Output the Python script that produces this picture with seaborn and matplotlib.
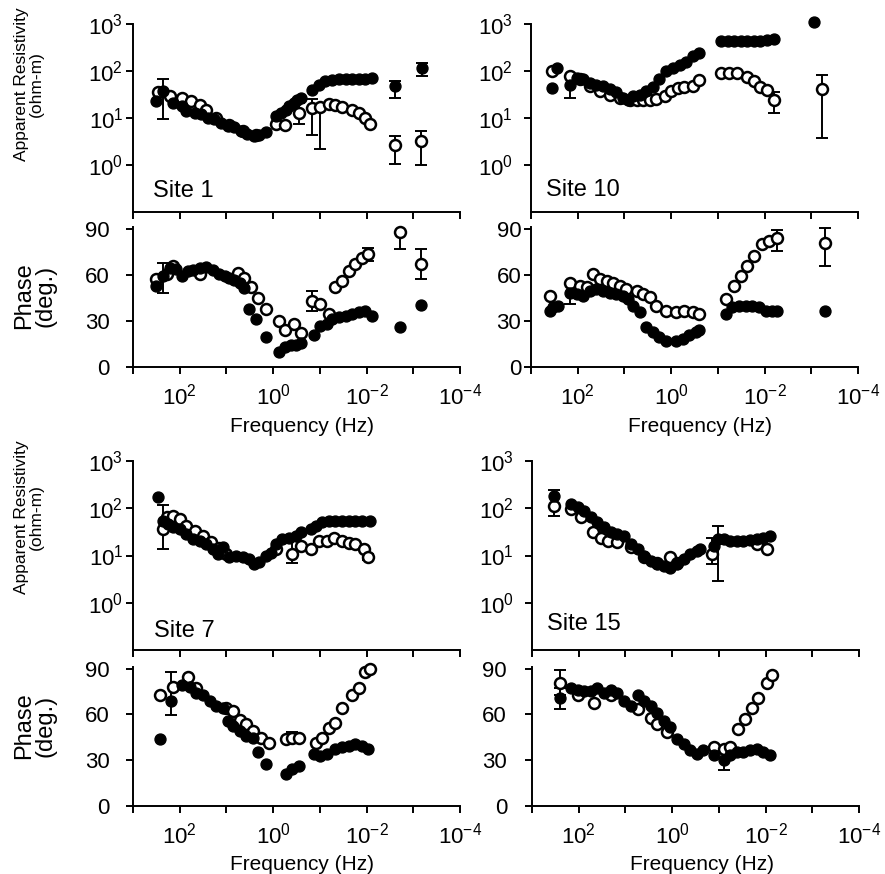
import numpy as np
import pandas as pd
import matplotlib
matplotlib.use("Agg")
import matplotlib.pyplot as plt
from matplotlib import font_manager
from matplotlib.ticker import FixedLocator, FixedFormatter, NullLocator
import seaborn as sns

# ---------------- data (frequency as log10 Hz) ----------------
# Site 1
S1_RHO_F_LOGF = [2.50, 2.35, 2.14, 1.96, 1.86, 1.68, 1.54, 1.40, 1.26, 1.11, 0.97, 0.83, 0.69, 0.55, 0.40, 0.30, 0.16,
                 -0.06, -0.16, -0.27, -0.34, -0.45, -0.52, -0.59,
                 -0.84, -0.98, -1.12, -1.26, -1.40, -1.55, -1.69, -1.83, -1.97, -2.11, -2.61, -3.18]
S1_RHO_F = [22.9, 37, 21, 17.8, 14.1, 12.9, 12.0, 10.2, 9.3, 7.9, 6.8, 6.3, 5.3, 4.5, 4.2, 4.3, 5.0,
            11, 12.9, 15.1, 17.8, 21, 24.5, 26.9,
            38.9, 51, 60, 63, 66, 68, 68, 66, 66, 71, 48, 115]
S1_RHO_O_LOGF = [2.46, 2.21, 1.96, 1.75, 1.57, 1.43, 1.22, 0.94, 0.65, 0.37,
                 -0.06, -0.26, -0.55,
                 -0.84, -1.01, -1.19, -1.33, -1.48, -1.69, -1.83, -1.97, -2.08, -2.61, -3.16]
S1_RHO_O = [35, 29, 27, 23, 18.6, 15, 10, 7.2, 5.2, 4.4,
            7.4, 7.1, 12.9,
            16.6, 17.4, 19.5, 18.6, 17.4, 15.1, 12.9, 9.8, 7.4, 2.6, 3.2]
S1_PH_F_LOGF = [2.50, 2.35, 2.21, 2.07, 1.96, 1.82, 1.72, 1.57, 1.43, 1.29, 1.15, 1.04, 0.94, 0.83, 0.72, 0.62, 0.52,
                0.37, 0.16, -0.13, -0.26, -0.38, -0.48, -0.59,
                -0.87, -1.01, -1.16, -1.26, -1.40, -1.55, -1.69, -1.83, -1.97, -2.11, -2.72, -3.16]
S1_PH_F = [52.7, 59.2, 64.6, 63.5, 59.2, 62.4, 62.9, 64.2, 65.0, 62.9, 60.7, 59.2, 58.1, 56.4, 54.3, 51.2, 37.7,
           31.2, 19.8, 9.7, 12.9, 14.0, 14.0, 15.5,
           20.5, 26.9, 28.0, 31.2, 32.3, 33.4, 34.4, 35.5, 36.6, 33.4, 26.3, 40.5]
S1_PH_O_LOGF = [2.50, 2.28, 2.14, 1.57, 0.76, 0.62, 0.48, 0.33, 0.16, -0.13, -0.26, -0.45, -0.59,
                -0.84, -1.01, -1.19, -1.33, -1.48, -1.62, -1.76, -1.90, -2.04, -2.72, -3.16]
S1_PH_O = [57.1, 60.3, 65.7, 60.7, 61.4, 58.1, 51.7, 44.8, 37.7, 30.1, 24.1, 28.0, 22.0,
           43.1, 40.9, 34.4, 51.7, 56.0, 62.4, 66.7, 71.0, 73.2, 87.8, 66.7]
S1_RHO_ERR = [(2.35, 37, 9.3, 66), (-2.61, 48, 27, 60), (-3.18, 115, 78, 148), (-0.55, 12.9, 7.4, 21),
              (-0.84, 16.6, 4.3, 25), (-1.01, 17.4, 2.2, 20), (-2.61, 2.6, 1.05, 4.2), (-3.16, 3.2, 1.0, 5.2)]
S1_PH_ERR = [(2.35, 59.2, 48.4, 67.8), (-0.84, 43.1, 36.6, 49.5), (-2.04, 73.2, 68.9, 77.5),
             (-2.72, 87.8, 76.4, 87.8), (-3.16, 66.7, 57.1, 76.4)]

# Site 10
S10_RHO_F_LOGF = [2.55, 2.45, 2.16, 2.02, 1.88, 1.74, 1.60, 1.45, 1.31, 1.17, 1.03, 0.92, 0.82, 0.67, 0.53, 0.39, 0.25,
                  0.11, -0.04, -0.18, -0.32, -0.46, -0.60,
                  -1.06, -1.21, -1.35, -1.49, -1.63, -1.77, -1.91, -2.06, -2.20, -3.05]
S10_RHO_F = [43.6, 115, 51, 71, 66, 56, 51, 48, 41, 35, 27, 24.5, 29, 31.6, 37, 46, 66,
             98, 115, 135, 158, 204, 240,
             440, 440, 440, 440, 440, 440, 440, 450, 470, 1120]
S10_RHO_O_LOGF = [2.55, 2.16, 1.95, 1.74, 1.52, 1.31, 1.10, 0.89, 0.74, 0.60, 0.46, 0.32, 0.14, 0.0, -0.14, -0.28,
                  -0.46, -0.60, -1.06, -1.24, -1.42, -1.63, -1.77, -1.91, -2.06, -2.20, -3.23]
S10_RHO_O = [98, 77, 66, 48, 37, 31.6, 27, 24.5, 24.5, 24.5, 24.5, 25.5, 29, 37, 43.6, 46,
             49, 63, 91, 91, 91, 74, 60, 46, 39, 24.5, 41]
S10_PH_F_LOGF = [2.59, 2.52, 2.43, 2.16, 2.02, 1.88, 1.74, 1.60, 1.45, 1.31, 1.17, 1.03, 0.92, 0.82, 0.67, 0.53, 0.39,
                 0.25, 0.11, -0.11, -0.25, -0.39, -0.53, -0.60,
                 -1.17, -1.31, -1.45, -1.60, -1.74, -1.88, -2.02, -2.16, -2.27, -3.30]
S10_PH_F = [36.6, 38.8, 39.8, 48.4, 47.4, 46.3, 49.5, 50.6, 49.5, 48.4, 47.4, 46.3, 44.1, 39.8, 35.5, 25.8, 22.6,
            19.4, 17.2, 17.2, 18.3, 20.5, 22.6, 24.1,
            34.4, 38.8, 39.8, 39.8, 39.8, 38.8, 36.6, 36.6, 36.6, 36.6]
S10_PH_O_LOGF = [2.59, 2.16, 1.95, 1.81, 1.67, 1.52, 1.38, 1.24, 1.10, 0.96, 0.74, 0.60, 0.46, 0.32, 0.11, -0.11,
                 -0.28, -0.46, -0.60,
                 -1.17, -1.35, -1.49, -1.63, -1.77, -1.95, -2.09, -2.27, -3.30]
S10_PH_O = [46.3, 54.9, 52.7, 51.7, 60.3, 57.1, 56.0, 54.9, 52.7, 50.6, 49.5, 47.4, 45.2, 39.8, 36.6, 35.5,
            36.6, 35.5, 34.4,
            44.1, 52.7, 59.2, 65.7, 72.1, 79.7, 81.8, 84.0, 80.7]
S10_RHO_ERR = [(2.16, 51, 27, 78), (-2.20, 24.5, 12.9, 35), (-3.23, 41, 3.8, 83)]
S10_PH_ERR = [(2.16, 48.4, 40.9, 54.9), (-2.27, 84.0, 75.4, 89.3), (-3.30, 80.7, 65.7, 90.4)]

# Site 7
S7_RHO_F_LOGF = [2.46, 2.35, 2.25, 2.14, 2.00, 1.86, 1.72, 1.57, 1.43, 1.29, 1.18, 1.08, 0.94, 0.79, 0.65, 0.51,
                 0.40, 0.30, 0.16, 0.05,
                 -0.06, -0.20, -0.34, -0.48, -0.59,
                 -0.80, -0.91, -1.05, -1.19, -1.33, -1.48, -1.62, -1.76, -1.90, -2.08]
S7_RHO_F = [170, 55, 47, 40, 36, 28, 22, 20.4, 17.4, 13.5, 10.7, 14.8, 9.1, 9.8, 9.1, 8.3,
            6.6, 7.4, 9.8, 11.5,
            17.4, 22, 24, 26, 31,
            36, 42.7, 50, 55, 55, 55, 55, 55, 55, 55]
S7_RHO_O_LOGF = [2.35, 2.28, 2.14, 2.00, 1.86, 1.68, 1.50, 1.33, 1.15, 1.01,
                 -0.06, -0.41, -0.59,
                 -0.80, -0.98, -1.16, -1.30, -1.48, -1.62, -1.76, -1.94, -2.04]
S7_RHO_O = [36, 65, 70, 59, 42.7, 33, 26, 19, 14.5, 10.7,
            13.5, 10.7, 16.2,
            13.5, 20.4, 20.4, 23.4, 20.4, 18.1, 17.1, 13.5, 9.1]
S7_PH_F_LOGF = [2.43, 2.18, 1.96, 1.79, 1.65, 1.50, 1.36, 1.22, 1.08, 0.97, 0.87, 0.72, 0.58, 0.44, 0.33, 0.16,
                -0.27, -0.41, -0.55,
                -0.87, -1.01, -1.16, -1.33, -1.48, -1.62, -1.76, -1.90, -2.04]
S7_PH_F = [43.7, 68.5, 79.2, 78.2, 73.8, 72.8, 68.5, 65.2, 64.2, 55.5, 52.3, 49.1, 45.9, 44.8, 35.1, 27.6,
           21.1, 24.3, 26.5,
           34.0, 32.9, 34.0, 37.2, 38.3, 39.4, 40.5, 39.4, 37.2]
S7_PH_O_LOGF = [2.43, 2.14, 1.82, 1.65, 1.01, 0.87, 0.72, 0.58, 0.44, 0.26, 0.09,
                -0.27, -0.41, -0.55,
                -0.91, -1.05, -1.19, -1.33, -1.48, -1.69, -1.83, -1.97, -2.08]
S7_PH_O = [72.8, 78.2, 84.6, 77.1, 64.2, 62.0, 56.6, 53.4, 49.1, 44.8, 41.5,
           43.7, 44.8, 44.4,
           41.5, 44.8, 51.2, 54.5, 64.2, 72.8, 77.1, 87.8, 90.0]
S7_RHO_ERR = [(2.35, 55, 13.5, 115), (-0.41, 10.7, 7.1, 20.4), (-2.04, 9.1, 8.0, 10.5)]
S7_PH_ERR = [(2.18, 68.5, 59.9, 87.8), (-0.41, 44.8, 41.5, 48.5)]

# Site 15
S15_RHO_F_LOGF = [2.52, 2.16, 2.02, 1.88, 1.74, 1.60, 1.45, 1.31, 1.17, 1.03, 0.89, 0.74, 0.60, 0.46, 0.32, 0.18,
                  0.04, -0.11, -0.25, -0.39, -0.53, -0.60,
                  -0.89, -0.99, -1.10, -1.24, -1.38, -1.52, -1.67, -1.81, -1.95, -2.09]
S15_RHO_F = [186, 123, 105, 89, 65, 50, 40, 31, 28, 26, 17.4, 13.5, 9.8, 7.8, 6.6, 6.0,
             5.5, 6.6, 8.3, 10.7, 12.6, 13.5,
             16.2, 22.4, 22.4, 20.4, 20.4, 20.4, 21.3, 22.4, 24.0, 26.2]
S15_RHO_O_LOGF = [2.52, 2.16, 1.95, 1.70, 1.52, 1.38, 1.17, 0.89, 0.60, 0.32, 0.04, -0.11,
                  -0.85, -1.81, -2.02]
S15_RHO_O = [114, 98, 65, 31, 24, 20.4, 19, 15, 9.5, 7.0, 9.1, 7.1,
             10.7, 17.4, 13.5]
S15_PH_F_LOGF = [2.41, 2.16, 2.02, 1.88, 1.74, 1.60, 1.45, 1.31, 1.17, 1.03, 0.89, 0.74, 0.60, 0.46, 0.32, 0.18,
                 0.04, -0.11, -0.25, -0.39, -0.53, -0.67,
                 -0.89, -1.10, -1.24, -1.38, -1.52, -1.67, -1.81, -1.95, -2.09]
S15_PH_F = [70.7, 77.1, 76.1, 75.0, 75.0, 77.1, 73.9, 76.1, 73.9, 68.6, 65.4, 72.9, 68.6, 65.4, 61.1, 55.7,
            51.4, 43.9, 40.7, 36.4, 34.3, 36.4,
            33.2, 30.0, 33.2, 35.4, 35.4, 36.4, 37.5, 35.4, 33.2]
S15_PH_O_LOGF = [2.41, 2.02, 1.67, 1.31, 0.74, 0.46, 0.32, 0.11,
                 -0.89, -1.10, -1.24, -1.42, -1.56, -1.70, -1.84, -2.02, -2.13]
S15_PH_O = [80.8, 72.9, 67.5, 72.9, 63.2, 57.9, 53.6, 48.2,
            38.6, 37.5, 38.6, 50.4, 56.8, 64.3, 70.7, 80.4, 85.7]
S15_RHO_ERR = [(2.52, 186, 69, 240), (-0.99, 22.4, 2.9, 42.7), (-0.85, 10.7, 6.6, 24)]
S15_PH_ERR = [(2.41, 80.8, 72.9, 88.9), (2.41, 70.7, 63.2, 77.1), (-1.10, 30.0, 23.6, 35.4)]

SITE_NAMES = ["Site 1", "Site 10", "Site 7", "Site 15"]
FREQ_TICK_LABELS = ["$10^{2}$", "$10^{0}$", "$10^{-2}$", "$10^{-4}$"]
RHO_TICK_LABELS = ["$10^{0}$", "$10^{1}$", "$10^{2}$", "$10^{3}$"]
PHASE_TICKS = [0, 30, 60, 90]

# ---------------- style ----------------
sns.set_theme(style="ticks")
plt.rcParams["font.family"] = ["Liberation Sans", "DejaVu Sans"]
plt.rcParams["mathtext.fontset"] = "custom"
plt.rcParams["mathtext.rm"] = "Liberation Sans"
plt.rcParams["mathtext.it"] = "Liberation Sans"
plt.rcParams["mathtext.bf"] = "Liberation Sans:bold"
plt.rcParams["axes.linewidth"] = 1.4

names = {f.name for f in font_manager.fontManager.ttflist}
NARROW = "Liberation Sans Narrow" in names

fig = plt.figure(figsize=(8.85, 8.74), dpi=100)
W, H = 885.0, 874.0


def frac_box(x0, x1, ytop, ybot):
    return [x0 / W, 1 - ybot / H, (x1 - x0) / W, (ybot - ytop) / H]


sites = [
    dict(name=SITE_NAMES[0], col=133, rho=(24, 212), ph=(227, 367), pads=(2, 12), site_pos=(0.06, 0.08),
         rf=(S1_RHO_F_LOGF, S1_RHO_F), ro=(S1_RHO_O_LOGF, S1_RHO_O), pf=(S1_PH_F_LOGF, S1_PH_F),
         po=(S1_PH_O_LOGF, S1_PH_O), re=S1_RHO_ERR, pe=S1_PH_ERR),
    dict(name=SITE_NAMES[1], col=531, rho=(24, 212), ph=(227, 367), pads=(8, 2), site_pos=(0.045, 0.085),
         rf=(S10_RHO_F_LOGF, S10_RHO_F), ro=(S10_RHO_O_LOGF, S10_RHO_O), pf=(S10_PH_F_LOGF, S10_PH_F),
         po=(S10_PH_O_LOGF, S10_PH_O), re=S10_RHO_ERR, pe=S10_PH_ERR),
    dict(name=SITE_NAMES[2], col=133, rho=(461, 650), ph=(667, 806), pads=(2, 12), site_pos=(0.065, 0.07),
         rf=(S7_RHO_F_LOGF, S7_RHO_F), ro=(S7_RHO_O_LOGF, S7_RHO_O), pf=(S7_PH_F_LOGF, S7_PH_F),
         po=(S7_PH_O_LOGF, S7_PH_O), re=S7_RHO_ERR, pe=S7_PH_ERR),
    dict(name=SITE_NAMES[3], col=532, rho=(461, 650), ph=(667, 806), pads=(8, 13), site_pos=(0.045, 0.105),
         rf=(S15_RHO_F_LOGF, S15_RHO_F), ro=(S15_RHO_O_LOGF, S15_RHO_O), pf=(S15_PH_F_LOGF, S15_PH_F),
         po=(S15_PH_O_LOGF, S15_PH_O), re=S15_RHO_ERR, pe=S15_PH_ERR),
]

AX_W = 327
MS = 62


def draw_points(ax, series, filled):
    logf, vals = series
    df = pd.DataFrame({"freq": 10.0 ** np.asarray(logf, dtype=float), "val": np.asarray(vals, dtype=float)})
    if filled:
        sns.scatterplot(data=df, x="freq", y="val", ax=ax, s=MS, color="black", edgecolor="black",
                        linewidth=1.0, zorder=4, legend=False, clip_on=False)
    else:
        sns.scatterplot(data=df, x="freq", y="val", ax=ax, s=MS, color="white", edgecolor="black",
                        linewidth=1.8, zorder=3, legend=False, clip_on=False)


def draw_err(ax, errs):
    for lf, c, lo, hi in errs:
        ax.errorbar([10.0 ** lf], [c], yerr=[[c - lo], [hi - c]], fmt="none", ecolor="black",
                    elinewidth=1.4, capsize=4.5, capthick=1.4, zorder=2, clip_on=False)


def style_xaxis(ax, labels):
    ax.set_xscale("log")
    ax.set_xlim(1e3, 1e-4)
    ax.xaxis.set_major_locator(FixedLocator([1e2, 1e0, 1e-2, 1e-4]))
    ax.xaxis.set_minor_locator(FixedLocator([1e3, 1e1, 1e-1, 1e-3]))
    if labels:
        ax.xaxis.set_major_formatter(FixedFormatter(FREQ_TICK_LABELS))
    else:
        ax.xaxis.set_major_formatter(FixedFormatter(["", "", "", ""]))
    ax.xaxis.set_minor_formatter(FixedFormatter(["", "", "", ""]))
    ax.tick_params(axis="x", which="both", direction="out", length=5, width=1.4, labelsize=16, pad=7,
                   colors="black")


for st in sites:
    x0 = st["col"]
    ax_r = fig.add_axes(frac_box(x0, x0 + AX_W, st["rho"][0], st["rho"][1]))
    ax_p = fig.add_axes(frac_box(x0, x0 + AX_W, st["ph"][0], st["ph"][1]))
    for ax in (ax_r, ax_p):
        ax.set_facecolor("white")
        for s in ("top", "right"):
            ax.spines[s].set_visible(False)
        for s in ("left", "bottom"):
            ax.spines[s].set_color("black")
            ax.spines[s].set_linewidth(1.4)

    # resistivity
    ax_r.set_yscale("log")
    style_xaxis(ax_r, False)
    draw_err(ax_r, st["re"])
    draw_points(ax_r, st["ro"], False)
    draw_points(ax_r, st["rf"], True)
    ax_r.set_xlim(1e3, 1e-4)
    ax_r.set_ylim(1e-1, 1e3)
    ax_r.yaxis.set_major_locator(FixedLocator([1e0, 1e1, 1e2, 1e3]))
    ax_r.yaxis.set_major_formatter(FixedFormatter(RHO_TICK_LABELS))
    ax_r.yaxis.set_minor_locator(NullLocator())
    ax_r.tick_params(axis="y", which="both", direction="out", length=5, width=1.4, labelsize=16,
                     pad=st["pads"][0], colors="black")
    ax_r.set_xlabel("")
    ax_r.set_ylabel("")
    ax_r.text(st["site_pos"][0], st["site_pos"][1], st["name"], transform=ax_r.transAxes,
              fontsize=17, va="baseline", ha="left", color="black")

    # phase
    style_xaxis(ax_p, True)
    draw_err(ax_p, st["pe"])
    draw_points(ax_p, st["po"], False)
    draw_points(ax_p, st["pf"], True)
    ax_p.set_xlim(1e3, 1e-4)
    ax_p.set_ylim(0, 91)
    ax_p.yaxis.set_major_locator(FixedLocator(PHASE_TICKS))
    ax_p.yaxis.set_minor_locator(NullLocator())
    ax_p.tick_params(axis="y", which="both", direction="out", length=5, width=1.4, labelsize=16,
                     pad=st["pads"][1], colors="black")
    ax_p.set_xlabel("")
    ax_p.set_ylabel("")

    # frequency label
    fx = (x0 + AX_W / 2 + 6) / W
    fy = 1 - (st["ph"][1] + 59) / H
    fig.text(fx, fy, "Frequency (Hz)", ha="center", va="center", fontsize=15, color="black")

# y labels (left column only)
if NARROW:
    res_kw = dict(family=["Liberation Sans Narrow", "DejaVu Sans"], fontsize=14.5)
else:
    res_kw = dict(fontsize=12.5)
for yc in (84, 517):
    fig.text(29 / W, 1 - yc / H, "Apparent Resistivity\n(ohm-m)", rotation=90, ha="center", va="center",
             multialignment="center", linespacing=0.95, color="black", **res_kw)
for yc in (296, 726):
    fig.text(35 / W, 1 - yc / H, "Phase\n(deg.)", rotation=90, ha="center", va="center",
             multialignment="center", linespacing=0.95, fontsize=17, color="black")

fig.savefig("out.png", dpi=100, facecolor="white")
